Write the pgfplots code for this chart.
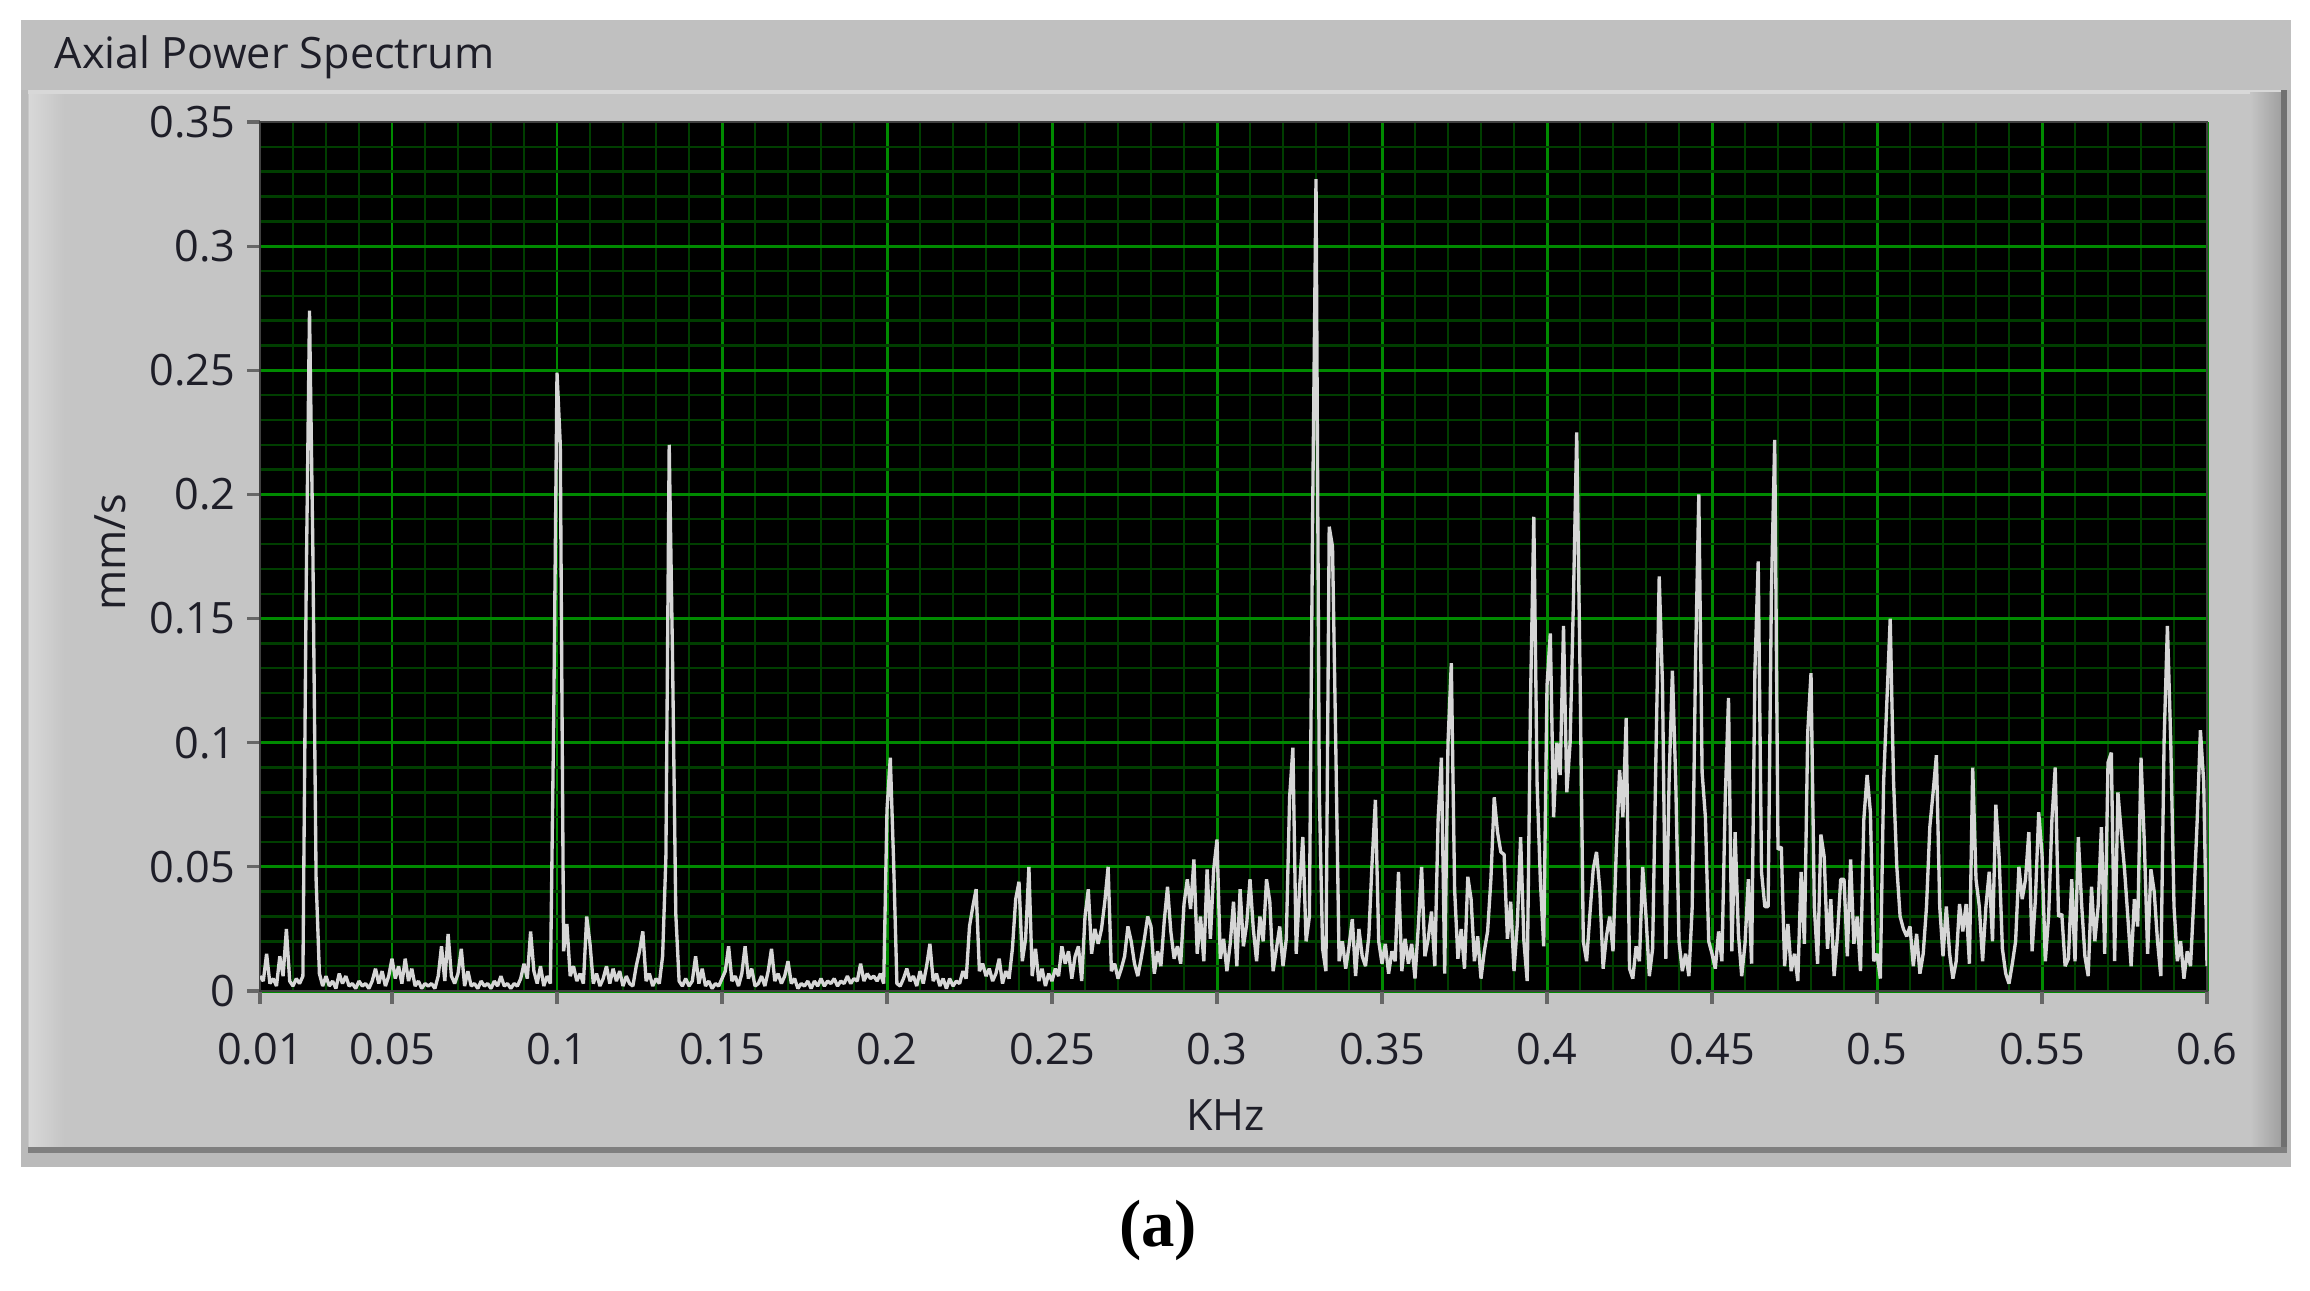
\documentclass[border=0pt]{standalone}
\usepackage{pgfplots}
\pgfplotsset{compat=1.18}
\usepackage{pgfplotstable}
\usepackage{fontspec}
\setmainfont{Open Sans}
\newfontfamily\capfont{Liberation Serif}
\definecolor{outer}{RGB}{186,186,186}
\definecolor{titlebar}{RGB}{192,192,192}
\definecolor{panel}{RGB}{197,197,197}
\definecolor{panellight}{RGB}{216,216,216}
\definecolor{paneldark}{RGB}{160,160,160}
\definecolor{edge}{RGB}{112,112,112}
\definecolor{labelcol}{RGB}{30,30,40}
\definecolor{gridmaj}{RGB}{0,138,0}
\definecolor{gridmin}{RGB}{0,62,0}
\definecolor{trace}{RGB}{214,214,214}

\pgfplotstableread{
f v
0.010 0.006
0.011 0.004
0.012 0.015
0.013 0.003
0.014 0.005
0.015 0.002
0.016 0.014
0.017 0.006
0.018 0.025
0.019 0.004
0.020 0.002
0.021 0.005
0.022 0.003
0.023 0.006
0.024 0.163
0.025 0.274
0.026 0.180
0.027 0.045
0.028 0.007
0.029 0.002
0.030 0.006
0.031 0.002
0.032 0.004
0.033 0.001
0.034 0.007
0.035 0.003
0.036 0.006
0.037 0.002
0.038 0.003
0.039 0.001
0.040 0.004
0.041 0.002
0.042 0.003
0.043 0.001
0.044 0.004
0.045 0.009
0.046 0.003
0.047 0.008
0.048 0.002
0.049 0.006
0.050 0.013
0.051 0.005
0.052 0.010
0.053 0.003
0.054 0.013
0.055 0.004
0.056 0.009
0.057 0.002
0.058 0.004
0.059 0.001
0.060 0.003
0.061 0.002
0.062 0.003
0.063 0.001
0.064 0.006
0.065 0.018
0.066 0.004
0.067 0.023
0.068 0.006
0.069 0.003
0.070 0.007
0.071 0.017
0.072 0.002
0.073 0.008
0.074 0.002
0.075 0.003
0.076 0.001
0.077 0.004
0.078 0.002
0.079 0.003
0.080 0.001
0.081 0.004
0.082 0.002
0.083 0.006
0.084 0.002
0.085 0.003
0.086 0.001
0.087 0.003
0.088 0.002
0.089 0.005
0.090 0.011
0.091 0.005
0.092 0.024
0.093 0.008
0.094 0.003
0.095 0.010
0.096 0.002
0.097 0.006
0.098 0.003
0.099 0.110
0.100 0.249
0.101 0.220
0.102 0.016
0.103 0.027
0.104 0.006
0.105 0.010
0.106 0.004
0.107 0.007
0.108 0.003
0.109 0.030
0.110 0.019
0.111 0.003
0.112 0.007
0.113 0.002
0.114 0.005
0.115 0.010
0.116 0.003
0.117 0.009
0.118 0.004
0.119 0.008
0.120 0.002
0.121 0.006
0.122 0.003
0.123 0.002
0.124 0.010
0.125 0.016
0.126 0.024
0.127 0.004
0.128 0.007
0.129 0.002
0.130 0.005
0.131 0.003
0.132 0.014
0.133 0.054
0.134 0.220
0.135 0.135
0.136 0.031
0.137 0.004
0.138 0.002
0.139 0.005
0.140 0.002
0.141 0.004
0.142 0.014
0.143 0.003
0.144 0.009
0.145 0.002
0.146 0.004
0.147 0.001
0.148 0.003
0.149 0.002
0.150 0.005
0.151 0.008
0.152 0.018
0.153 0.004
0.154 0.006
0.155 0.002
0.156 0.007
0.157 0.018
0.158 0.005
0.159 0.009
0.160 0.002
0.161 0.003
0.162 0.006
0.163 0.002
0.164 0.008
0.165 0.017
0.166 0.004
0.167 0.007
0.168 0.003
0.169 0.006
0.170 0.012
0.171 0.003
0.172 0.005
0.173 0.001
0.174 0.003
0.175 0.002
0.176 0.004
0.177 0.001
0.178 0.004
0.179 0.002
0.180 0.005
0.181 0.002
0.182 0.004
0.183 0.003
0.184 0.005
0.185 0.002
0.186 0.004
0.187 0.003
0.188 0.006
0.189 0.003
0.190 0.005
0.191 0.004
0.192 0.011
0.193 0.004
0.194 0.007
0.195 0.005
0.196 0.006
0.197 0.004
0.198 0.007
0.199 0.003
0.200 0.073
0.201 0.094
0.202 0.052
0.203 0.003
0.204 0.002
0.205 0.005
0.206 0.009
0.207 0.004
0.208 0.006
0.209 0.002
0.210 0.008
0.211 0.003
0.212 0.010
0.213 0.019
0.214 0.004
0.215 0.007
0.216 0.002
0.217 0.005
0.218 0.001
0.219 0.005
0.220 0.002
0.221 0.004
0.222 0.003
0.223 0.008
0.224 0.005
0.225 0.026
0.226 0.034
0.227 0.041
0.228 0.008
0.229 0.011
0.230 0.006
0.231 0.009
0.232 0.004
0.233 0.007
0.234 0.013
0.235 0.003
0.236 0.008
0.237 0.005
0.238 0.017
0.239 0.037
0.240 0.044
0.241 0.012
0.242 0.021
0.243 0.050
0.244 0.006
0.245 0.017
0.246 0.004
0.247 0.009
0.248 0.002
0.249 0.007
0.250 0.004
0.251 0.009
0.252 0.006
0.253 0.018
0.254 0.011
0.255 0.016
0.256 0.005
0.257 0.014
0.258 0.018
0.259 0.004
0.260 0.030
0.261 0.041
0.262 0.015
0.263 0.025
0.264 0.019
0.265 0.025
0.266 0.036
0.267 0.050
0.268 0.008
0.269 0.011
0.270 0.005
0.271 0.009
0.272 0.014
0.273 0.026
0.274 0.020
0.275 0.011
0.276 0.006
0.277 0.013
0.278 0.021
0.279 0.030
0.280 0.026
0.281 0.007
0.282 0.016
0.283 0.010
0.284 0.028
0.285 0.042
0.286 0.024
0.287 0.013
0.288 0.018
0.289 0.011
0.290 0.035
0.291 0.045
0.292 0.033
0.293 0.053
0.294 0.015
0.295 0.030
0.296 0.012
0.297 0.049
0.298 0.021
0.299 0.049
0.300 0.061
0.301 0.013
0.302 0.021
0.303 0.008
0.304 0.019
0.305 0.036
0.306 0.010
0.307 0.041
0.308 0.018
0.309 0.027
0.310 0.045
0.311 0.025
0.312 0.012
0.313 0.030
0.314 0.020
0.315 0.045
0.316 0.036
0.317 0.008
0.318 0.017
0.319 0.026
0.320 0.010
0.321 0.021
0.322 0.078
0.323 0.098
0.324 0.015
0.325 0.041
0.326 0.062
0.327 0.020
0.328 0.030
0.329 0.195
0.330 0.327
0.331 0.080
0.332 0.017
0.333 0.008
0.334 0.187
0.335 0.179
0.336 0.098
0.337 0.012
0.338 0.020
0.339 0.009
0.340 0.018
0.341 0.029
0.342 0.006
0.343 0.025
0.344 0.014
0.345 0.010
0.346 0.022
0.347 0.052
0.348 0.077
0.349 0.020
0.350 0.011
0.351 0.019
0.352 0.007
0.353 0.016
0.354 0.012
0.355 0.048
0.356 0.008
0.357 0.021
0.358 0.011
0.359 0.019
0.360 0.005
0.361 0.026
0.362 0.050
0.363 0.014
0.364 0.021
0.365 0.032
0.366 0.010
0.367 0.069
0.368 0.094
0.369 0.007
0.370 0.100
0.371 0.132
0.372 0.041
0.373 0.013
0.374 0.025
0.375 0.009
0.376 0.046
0.377 0.037
0.378 0.012
0.379 0.022
0.380 0.005
0.381 0.016
0.382 0.024
0.383 0.045
0.384 0.078
0.385 0.064
0.386 0.056
0.387 0.055
0.388 0.021
0.389 0.036
0.390 0.008
0.391 0.027
0.392 0.062
0.393 0.020
0.394 0.004
0.395 0.117
0.396 0.191
0.397 0.083
0.398 0.044
0.399 0.018
0.400 0.123
0.401 0.144
0.402 0.070
0.403 0.100
0.404 0.087
0.405 0.147
0.406 0.080
0.407 0.100
0.408 0.157
0.409 0.225
0.410 0.129
0.411 0.020
0.412 0.012
0.413 0.031
0.414 0.049
0.415 0.056
0.416 0.041
0.417 0.009
0.418 0.022
0.419 0.030
0.420 0.016
0.421 0.057
0.422 0.089
0.423 0.070
0.424 0.110
0.425 0.009
0.426 0.005
0.427 0.018
0.428 0.012
0.429 0.050
0.430 0.030
0.431 0.006
0.432 0.017
0.433 0.094
0.434 0.167
0.435 0.123
0.436 0.013
0.437 0.085
0.438 0.129
0.439 0.085
0.440 0.020
0.441 0.008
0.442 0.015
0.443 0.006
0.444 0.034
0.445 0.132
0.446 0.200
0.447 0.088
0.448 0.070
0.449 0.020
0.450 0.015
0.451 0.009
0.452 0.024
0.453 0.012
0.454 0.077
0.455 0.118
0.456 0.016
0.457 0.064
0.458 0.023
0.459 0.006
0.460 0.019
0.461 0.045
0.462 0.011
0.463 0.129
0.464 0.173
0.465 0.048
0.466 0.034
0.467 0.034
0.468 0.161
0.469 0.222
0.470 0.057
0.471 0.058
0.472 0.010
0.473 0.027
0.474 0.008
0.475 0.015
0.476 0.004
0.477 0.048
0.478 0.019
0.479 0.104
0.480 0.128
0.481 0.034
0.482 0.011
0.483 0.063
0.484 0.054
0.485 0.017
0.486 0.037
0.487 0.006
0.488 0.022
0.489 0.045
0.490 0.045
0.491 0.014
0.492 0.053
0.493 0.019
0.494 0.030
0.495 0.008
0.496 0.069
0.497 0.087
0.498 0.072
0.499 0.012
0.500 0.015
0.501 0.005
0.502 0.084
0.503 0.117
0.504 0.150
0.505 0.085
0.506 0.050
0.507 0.030
0.508 0.025
0.509 0.022
0.510 0.026
0.511 0.010
0.512 0.023
0.513 0.007
0.514 0.015
0.515 0.034
0.516 0.066
0.517 0.080
0.518 0.095
0.519 0.034
0.520 0.014
0.521 0.034
0.522 0.015
0.523 0.005
0.524 0.012
0.525 0.035
0.526 0.024
0.527 0.035
0.528 0.011
0.529 0.090
0.530 0.045
0.531 0.034
0.532 0.012
0.533 0.034
0.534 0.048
0.535 0.020
0.536 0.075
0.537 0.054
0.538 0.017
0.539 0.007
0.540 0.003
0.541 0.011
0.542 0.020
0.543 0.050
0.544 0.037
0.545 0.045
0.546 0.064
0.547 0.016
0.548 0.037
0.549 0.072
0.550 0.055
0.551 0.012
0.552 0.030
0.553 0.069
0.554 0.090
0.555 0.030
0.556 0.031
0.557 0.010
0.558 0.013
0.559 0.045
0.560 0.012
0.561 0.062
0.562 0.035
0.563 0.014
0.564 0.006
0.565 0.042
0.566 0.020
0.567 0.034
0.568 0.066
0.569 0.015
0.570 0.092
0.571 0.096
0.572 0.012
0.573 0.080
0.574 0.064
0.575 0.049
0.576 0.030
0.577 0.010
0.578 0.037
0.579 0.026
0.580 0.094
0.581 0.060
0.582 0.015
0.583 0.049
0.584 0.040
0.585 0.020
0.586 0.006
0.587 0.101
0.588 0.147
0.589 0.101
0.590 0.034
0.591 0.012
0.592 0.020
0.593 0.005
0.594 0.016
0.595 0.010
0.596 0.037
0.597 0.068
0.598 0.105
0.599 0.084
0.600 0.010
}\spectrum

\begin{document}
\fontsize{12.3}{14}\selectfont
\begin{tikzpicture}[x=1cm,y=1cm]
\fill[white] (0,0) rectangle (23.10,12.90);
% outer frame
\fill[outer] (0.21,1.23) rectangle (22.91,12.70);
\fill[titlebar] (0.21,12.00) rectangle (22.91,12.70);
% inner panel with bevel
\fill[panel] (0.28,1.40) rectangle (22.82,12.00);
\shade[left color=panellight, right color=panel] (0.29,1.43) rectangle (0.64,11.97);
\fill[panellight] (0.28,11.96) rectangle (22.82,12.00);
\shade[left color=panel, right color=paneldark] (22.50,1.43) rectangle (22.81,11.97);
\fill[edge] (22.81,1.37) rectangle (22.87,12.00);
\fill[edge!80!outer] (0.28,1.37) rectangle (22.87,1.43);
% title and caption
\node[anchor=base west, inner sep=0pt, text=labelcol] at (0.54,12.21) {Axial Power Spectrum};
\node[anchor=center, inner sep=0pt] at (11.58,0.60) {\capfont\bfseries\fontsize{19}{21}\selectfont (a)};
\begin{axis}[
  at={(2.60cm,2.99cm)}, anchor=south west,
  scale only axis, width=19.47cm, height=8.69cm,
  xmin=0.01, xmax=0.6, ymin=0, ymax=0.35,
  axis background/.style={fill=black},
  xtick={0.01,0.05,0.1,0.15,0.2,0.25,0.3,0.35,0.4,0.45,0.5,0.55,0.6},
  xticklabels={0.01,0.05,0.1,0.15,0.2,0.25,0.3,0.35,0.4,0.45,0.5,0.55,0.6},
  ytick={0,0.05,0.1,0.15,0.2,0.25,0.3,0.35},
  yticklabels={0,0.05,0.1,0.15,0.2,0.25,0.3,0.35},
  minor xtick={0.02,0.03,0.04,0.06,0.07,0.08,0.09,0.11,0.12,0.13,0.14,0.16,0.17,0.18,0.19,0.21,0.22,0.23,0.24,0.26,0.27,0.28,0.29,0.31,0.32,0.33,0.34,0.36,0.37,0.38,0.39,0.41,0.42,0.43,0.44,0.46,0.47,0.48,0.49,0.51,0.52,0.53,0.54,0.56,0.57,0.58,0.59},
  minor ytick={0.01,0.02,0.03,0.04,0.06,0.07,0.08,0.09,0.11,0.12,0.13,0.14,0.16,0.17,0.18,0.19,0.21,0.22,0.23,0.24,0.26,0.27,0.28,0.29,0.31,0.32,0.33,0.34},
  grid=both,
  major grid style={draw=gridmaj, line width=0.85pt},
  minor grid style={draw=gridmin, line width=0.7pt},
  tick align=outside,
  major tick length=0.19cm, minor tick length=0pt,
  xtick pos=left, ytick pos=left,
  tick style={draw=black!60, line width=0.9pt, dash pattern=on 0pt off 0.06cm on 0.13cm},
  axis line style={draw=black!75, line width=0.8pt},
  ticklabel style={font=\fontsize{12.3}{14}\selectfont, text=labelcol},
  yticklabel style={anchor=east, inner sep=0pt, xshift=-0.05cm},
  xticklabel style={anchor=north, inner sep=0pt, yshift=-0.22cm},
  xlabel={KHz}, ylabel={mm/s},
  label style={font=\fontsize{12.3}{14}\selectfont, text=labelcol},
  xlabel style={at={(axis description cs:0.496,-0.143)}, anchor=center, inner sep=0pt},
  ylabel style={at={(axis description cs:-0.077,0.505)}, anchor=center, inner sep=0pt},
]
\addplot[draw=trace, line width=0.95pt, line join=bevel, mark=none] table[x=f,y=v]{\spectrum};
\end{axis}
\end{tikzpicture}
\end{document}
